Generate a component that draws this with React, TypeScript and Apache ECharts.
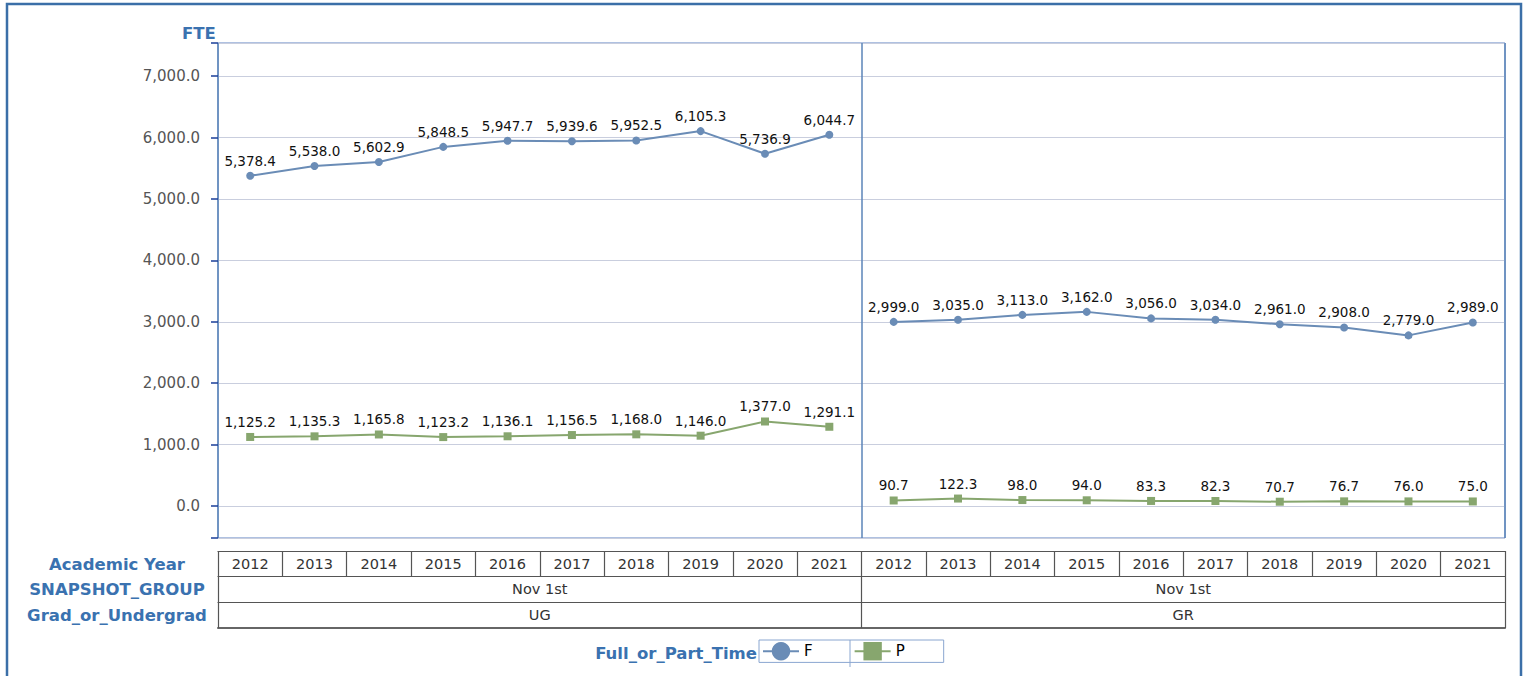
import React, { useEffect, useRef } from "react";
import * as echarts from "echarts";

const years = ["2012", "2013", "2014", "2015", "2016", "2017", "2018", "2019", "2020", "2021"];
const snapshotGroups = ["Nov 1st", "Nov 1st"];
const gradGroups = ["UG", "GR"];
const rowLabels = ["Academic Year", "SNAPSHOT_GROUP", "Grad_or_Undergrad"];

const ugFull = [5378.4, 5538.0, 5602.9, 5848.5, 5947.7, 5939.6, 5952.5, 6105.3, 5736.9, 6044.7];
const ugPart = [1125.2, 1135.3, 1165.8, 1123.2, 1136.1, 1156.5, 1168.0, 1146.0, 1377.0, 1291.1];
const grFull = [2999.0, 3035.0, 3113.0, 3162.0, 3056.0, 3034.0, 2961.0, 2908.0, 2779.0, 2989.0];
const grPart = [90.7, 122.3, 98.0, 94.0, 83.3, 82.3, 70.7, 76.7, 76.0, 75.0];

const BLUE_TEXT = "#3a72b0";
const F_COLOR = "#6a8cb6";
const P_COLOR = "#87a66e";
const FONT = "DejaVu Sans";

const fmt = (v: number) =>
  v.toLocaleString("en-US", { minimumFractionDigits: 1, maximumFractionDigits: 1 });

const pad = (n: number) => Array(n).fill(null);

export default function App() {
  const ref = useRef<HTMLDivElement>(null);
  useEffect(() => {
    if (!ref.current) return;
    const chart = echarts.init(ref.current, undefined, { renderer: "svg" });
    const allYears = [...years, ...years];
    const labelStyle = {
      show: true,
      position: "top" as const,
      distance: 4,
      color: "#111",
      fontFamily: FONT,
      fontSize: 13.5,
      formatter: (p: any) => fmt(p.value),
    };
    const mkSeries = (name: string, data: any[], color: string, symbol: string) => ({
      name,
      type: "line",
      xAxisIndex: 0,
      yAxisIndex: 0,
      data,
      connectNulls: false,
      symbol,
      symbolSize: 8,
      itemStyle: { color },
      lineStyle: { color, width: 2 },
      label: labelStyle,
      emphasis: { disabled: true },
    });
    const tableLine = { show: true, onZero: false, lineStyle: { color: "#555", width: 1.2 } };
    const tableLabel = {
      interval: 0,
      margin: 13,
      verticalAlign: "middle",
      color: "#333",
      fontFamily: FONT,
      fontSize: 14.5,
    };
    chart.setOption({
      animation: false,
      backgroundColor: "#fff",
      title: {
        text: "FTE",
        left: 177,
        top: 20,
        textStyle: { color: BLUE_TEXT, fontFamily: FONT, fontWeight: "bold", fontSize: 16.5 },
      },
      grid: {
        left: 218,
        top: 43,
        width: 1287,
        height: 495,
        show: true,
        backgroundColor: "#fff",
        borderColor: "#5f82c2",
        borderWidth: 1,
      },
      legend: {
        data: ["F", "P"],
        left: 759,
        top: 640,
        orient: "horizontal",
        itemWidth: 36,
        itemHeight: 23,
        itemGap: 41,
        padding: [2, 39, 2, 3],
        borderColor: "#8aa6d0",
        borderWidth: 1,
        selectedMode: false,
        textStyle: { color: "#000", fontFamily: FONT, fontSize: 15 },
      },
      xAxis: [
        {
          type: "category",
          gridIndex: 0,
          data: allYears,
          position: "bottom",
          offset: 13,
          boundaryGap: true,
          axisLine: tableLine,
          axisTick: { show: true, length: 25, lineStyle: { color: "#555", width: 1.2 } },
          axisLabel: { ...tableLabel, margin: 12.5 },
          splitLine: { show: false },
        },
        {
          type: "category",
          gridIndex: 0,
          data: snapshotGroups,
          position: "bottom",
          offset: 38,
          boundaryGap: true,
          axisLine: tableLine,
          axisTick: { show: true, length: 26, lineStyle: { color: "#555", width: 1.2 } },
          axisLabel: tableLabel,
          splitLine: { show: true, lineStyle: { color: "#5b84b8", width: 1.5 } },
        },
        {
          type: "category",
          gridIndex: 0,
          data: gradGroups,
          position: "bottom",
          offset: 64,
          boundaryGap: true,
          axisLine: tableLine,
          axisTick: { show: true, length: 26, lineStyle: { color: "#555", width: 1.2 } },
          axisLabel: tableLabel,
          splitLine: { show: false },
        },
        {
          type: "category",
          gridIndex: 0,
          data: gradGroups,
          position: "bottom",
          offset: 90,
          boundaryGap: true,
          axisLine: { show: true, onZero: false, lineStyle: { color: "#666", width: 2 } },
          axisTick: { show: false },
          axisLabel: { show: false },
          splitLine: { show: false },
        },
      ],
      yAxis: {
        type: "value",
        gridIndex: 0,
        min: -520,
        max: 7540,
        splitNumber: 8,
        axisLine: { show: false },
        axisTick: { show: true, length: 7, lineStyle: { color: "#1a3e99", width: 1.5 } },
        axisLabel: {
          margin: 18,
          color: "#555",
          fontFamily: FONT,
          fontSize: 15,
          formatter: (v: number) => (Math.abs(v % 1000) < 1e-6 ? fmt(v) : ""),
        },
        splitLine: { show: true, lineStyle: { color: "#c9cede", width: 1 } },
      },
      series: [
        mkSeries("F", [...ugFull, ...pad(10)], F_COLOR, "circle"),
        mkSeries("F", [...pad(10), ...grFull], F_COLOR, "circle"),
        mkSeries("P", [...ugPart, ...pad(10)], P_COLOR, "rect"),
        mkSeries("P", [...pad(10), ...grPart], P_COLOR, "rect"),
      ],
      graphic: [
        {
          type: "rect",
          shape: { x: 7, y: 4, width: 1514, height: 700 },
          style: { fill: "none", stroke: "#3b6fa8", lineWidth: 2.5 },
          silent: true,
        },
        ...rowLabels.map((t, i) => ({
          type: "text",
          x: 117,
          y: 564 + i * 25.5,
          style: {
            text: t,
            align: "center",
            verticalAlign: "middle",
            fill: BLUE_TEXT,
            font: `bold 16.5px '${FONT}'`,
          },
          silent: true,
        })),
        {
          type: "text",
          x: 757,
          y: 653,
          style: {
            text: "Full_or_Part_Time",
            align: "right",
            verticalAlign: "middle",
            fill: BLUE_TEXT,
            font: `bold 16.5px '${FONT}'`,
          },
          silent: true,
        },
        {
          type: "line",
          shape: { x1: 850, y1: 640, x2: 850, y2: 667 },
          style: { stroke: "#8aa6d0", lineWidth: 1 },
          silent: true,
        },
      ],
    });
    return () => chart.dispose();
  }, []);
  return (
    <div
      ref={ref}
      style={{ position: "absolute", left: 0, top: 0, width: 1528, height: 676 }}
    />
  );
}
